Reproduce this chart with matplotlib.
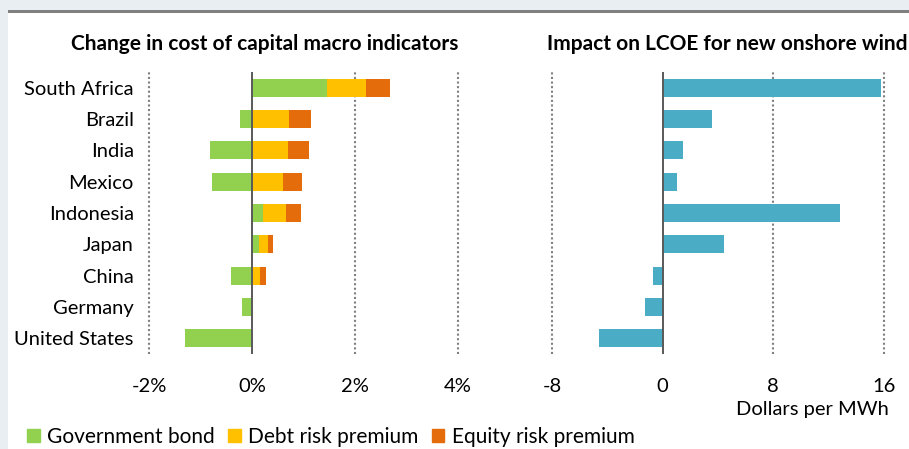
import matplotlib
matplotlib.use("Agg")
import matplotlib.pyplot as plt
from matplotlib.patches import Patch, Rectangle

plt.rcParams['font.family'] = ['Lato', 'DejaVu Sans']

countries = ['South Africa', 'Brazil', 'India', 'Mexico', 'Indonesia',
             'Japan', 'China', 'Germany', 'United States']
gov_bond = [1.45, -0.24, -0.82, -0.78, 0.22, 0.13, -0.41, -0.19, -1.30]
debt_risk = [0.76, 0.71, 0.69, 0.61, 0.44, 0.18, 0.16, 0.0, 0.0]
equity_risk = [0.47, 0.44, 0.42, 0.36, 0.29, 0.09, 0.11, 0.0, 0.0]
lcoe_impact = [15.8, 3.6, 1.5, 1.0, 12.8, 4.4, -0.7, -1.3, -4.6]

left_ticks = [-2, 0, 2, 4]
left_ticklabels = ['-2%', '0%', '2%', '4%']
right_ticks = [-8, 0, 8, 16]
right_ticklabels = ['-8', '0', '8', '16']

green = '#92D050'
yellow = '#FFC000'
orange = '#E46C0A'
teal = '#4BACC6'
fs = 14.5

W, H = 909, 449
fig = plt.figure(figsize=(W / 100, H / 100), dpi=100, facecolor='#E9EEF2')
# white panel and grey top rule
fig.patches.append(Rectangle((8 / W, 0), 1, (H - 13) / H, transform=fig.transFigure,
                             facecolor='white', edgecolor='none', zorder=-5))
fig.patches.append(Rectangle((8 / W, (H - 13) / H), 1, 3 / H, transform=fig.transFigure,
                             facecolor='#808080', edgecolor='none', zorder=-5))

ax1 = fig.add_axes([149 / W, (H - 354) / H, 309 / W, 282 / H])
ax2 = fig.add_axes([552 / W, (H - 354) / H, 332 / W, 282 / H])

y = list(range(len(countries)))
bh = 0.57

# stacked: positive parts stack right from 0, negative gov bond goes left
gov_pos = [max(g, 0) for g in gov_bond]
ax1.barh(y, gov_bond, height=bh, color=green, zorder=2)
ax1.barh(y, debt_risk, left=gov_pos, height=bh, color=yellow, zorder=2)
ax1.barh(y, equity_risk, left=[g + d for g, d in zip(gov_pos, debt_risk)],
         height=bh, color=orange, zorder=2)

ax2.barh(y, lcoe_impact, height=bh, color=teal, zorder=2)

for ax, ticks, labels in [(ax1, left_ticks, left_ticklabels),
                          (ax2, right_ticks, right_ticklabels)]:
    ax.set_xlim(ticks[0], ticks[-1])
    ax.set_ylim(len(countries) - 0.5, -0.5)
    ax.set_xticks(ticks)
    ax.set_xticklabels(labels, fontsize=fs)
    for t in ticks:
        if t == 0:
            ax.axvline(0, color='#595959', lw=1.4, zorder=3)
        else:
            ax.axvline(t, color='#808080', lw=1.5, ls=(0, (1, 1.2)), zorder=1,
                       clip_on=False)
    for s in ax.spines.values():
        s.set_visible(False)
    ax.tick_params(axis='x', length=0, pad=17)
    ax.tick_params(axis='y', length=0)
    ax.set_facecolor('none')

ax1.set_yticks(y)
ax1.set_yticklabels(countries, fontsize=fs)
ax1.tick_params(axis='y', pad=11)
ax2.set_yticks([])

fig.text(265 / W, 1 - 44 / H, 'Change in cost of capital macro indicators',
         ha='center', va='center', fontsize=15, fontweight='bold')
fig.text(727 / W, 1 - 44 / H, 'Impact on LCOE for new onshore wind',
         ha='center', va='center', fontsize=15, fontweight='bold')
fig.text(889 / W, 1 - 410 / H, 'Dollars per MWh', ha='right', va='center', fontsize=fs)

handles = [Patch(color=green, label='Government bond'),
           Patch(color=yellow, label='Debt risk premium'),
           Patch(color=orange, label='Equity risk premium')]
fig.legend(handles=handles, loc='center left', bbox_to_anchor=(27 / W, 1 - 437 / H),
           ncol=3, frameon=False, fontsize=15, handlelength=0.6, handleheight=0.6,
           handletextpad=0.35, columnspacing=0.65, borderaxespad=0, borderpad=0)

fig.savefig('out.png', dpi=100, facecolor=fig.get_facecolor())
